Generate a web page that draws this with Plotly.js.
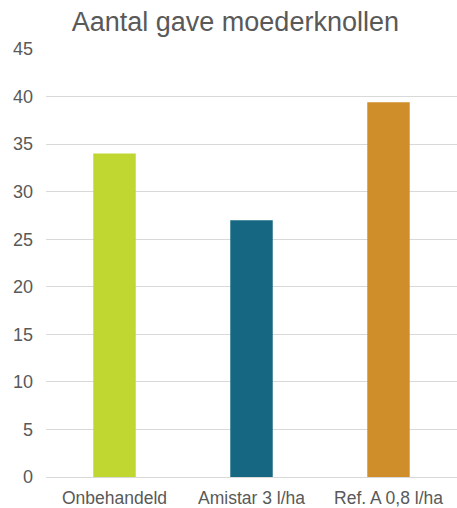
<!DOCTYPE html>
<html><head><meta charset="utf-8">
<script src="https://cdn.plot.ly/plotly-3.0.1.min.js"></script>
<style>html,body{margin:0;padding:0;background:#fff}</style>
</head><body><div id="chart" style="width:457px;height:508px"></div>
<script>
const categories = ["Onbehandeld", "Amistar 3 l/ha", "Ref. A 0,8 l/ha"];
const values = [34, 27, 39.4];
const barColors = ["#BFD730", "#156782", "#CF8E2A"];
const yTicks = [0, 5, 10, 15, 20, 25, 30, 35, 40, 45];

Plotly.newPlot("chart", [{
  type: "bar",
  x: categories,
  y: values,
  marker: {color: barColors},
  width: 0.31,
  hoverinfo: "none"
}], {
  width: 457, height: 508,
  margin: {l: 46, r: 0, t: 49, b: 31},
  paper_bgcolor: "#fff", plot_bgcolor: "#fff",
  font: {family: "Liberation Sans, Arial, sans-serif", color: "#595959", size: 17},
  title: {text: "Aantal gave moederknollen", font: {size: 27, color: "#595959"}, x: 0.515, xanchor: "center", y: 0.977, yanchor: "top"},
  xaxis: {showgrid: false, showline: true, linecolor: "#d9d9d9", linewidth: 1, tickfont: {size: 17.5, color: "#595959"}, zeroline: false, ticklabelstandoff: 5},
  yaxis: {range: [0, 45], tickvals: yTicks, showgrid: true, gridcolor: "#d9d9d9", gridwidth: 1, zeroline: false, showline: false, ticklabelstandoff: 12, tickfont: {size: 18, color: "#595959"}},
  showlegend: false
}, {staticPlot: true});
</script></body></html>
